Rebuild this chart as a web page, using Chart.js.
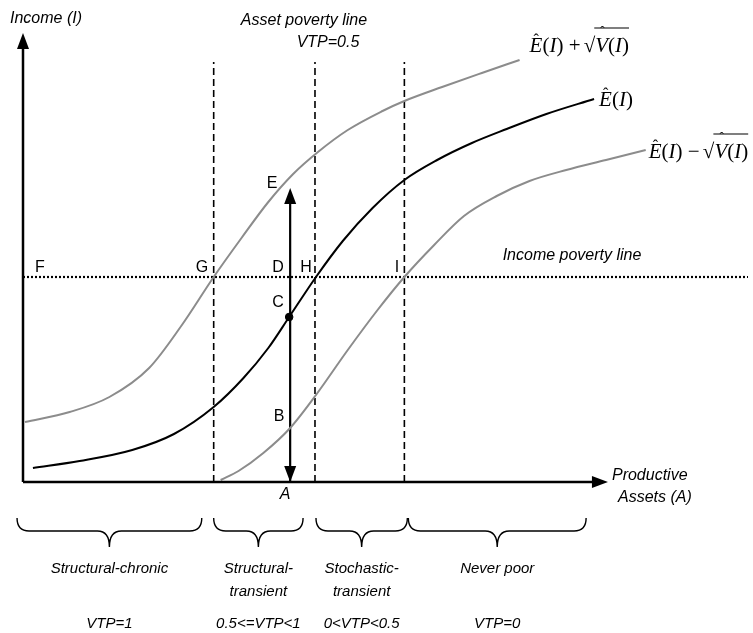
<!DOCTYPE html>
<html><head><meta charset="utf-8">
<script src="https://cdn.jsdelivr.net/npm/chart.js@4/dist/chart.umd.min.js"></script>
<style>html,body{margin:0;padding:0;background:#fff}canvas{display:block}</style>
</head><body>
<canvas id="c" width="753" height="633"></canvas>
<script>
// Conceptual diagram: x = productive assets, y = income (arbitrary units)
const meanX  = [10, 57, 110, 152, 192, 222, 247, 268, 295, 322, 352, 384, 417, 452, 487, 527, 575];
const meanY  = [14, 21, 32, 48, 75, 104, 134, 165, 205, 241, 274, 302, 322, 339, 353, 368, 383];
const upperX = [2, 47, 87, 127, 160, 192, 220, 247, 272, 297, 327, 362, 384, 422, 462, 500];
const upperY = [60, 70, 85, 114, 157, 205, 244, 280, 308, 330, 352, 371, 381, 395, 409, 422];
const lowerX = [199, 217, 242, 269, 295, 327, 357, 384, 414, 444, 477, 510, 547, 587, 627];
const lowerY = [2, 11, 29, 54, 87, 132, 172, 205, 237, 266, 286, 301, 312, 322, 332];
const assetThresholds = [192, 294, 384];   // G, asset poverty line, I
const incomePovertyLine = 205;
const householdA = 269;                    // A
const householdE = 294;                    // top of arrow (E)
const pointC = [268, 165];
const xMax = 730, yMax = 449, xAxisEnd = 589, yTop = 420;
const regions = [["Structural-chronic"], ["Structural-", "transient"], ["Stochastic-", "transient"], ["Never poor"]];
const regionBounds = [[-6, 180], [192, 282], [295, 387], [388, 567]];
const vtpLabels = ["VTP=1", "0.5<=VTP<1", "0<VTP<0.5", "VTP=0"];

const pts = (xs, ys) => xs.map((x, i) => ({x, y: ys[i]}));
const SANS = "'Liberation Sans', Arial, sans-serif";
const NARROW = "'Liberation Sans Narrow', 'Liberation Sans', Arial, sans-serif";
const SERIF = "'Liberation Serif', 'Times New Roman', serif";

const datasets = [
  {data: pts(upperX, upperY), borderColor: '#8c8c8c', borderWidth: 2, cubicInterpolationMode: 'monotone'},
  {data: pts(meanX, meanY), borderColor: '#000', borderWidth: 2, cubicInterpolationMode: 'monotone'},
  {data: pts(lowerX, lowerY), borderColor: '#8c8c8c', borderWidth: 2, cubicInterpolationMode: 'monotone'},
  ...assetThresholds.map(t => ({data: [{x: t, y: 0}, {x: t, y: yTop}], borderColor: '#000', borderWidth: 1.6, borderDash: [7, 4]})),
  {data: [{x: 0, y: incomePovertyLine}, {x: xMax, y: incomePovertyLine}], borderColor: '#000', borderWidth: 2.2, borderDash: [2, 2]},
  {data: [{x: householdA, y: 0}, {x: householdA, y: householdE - 14}], borderColor: '#000', borderWidth: 2.2},
  {data: [{x: pointC[0], y: pointC[1]}], showLine: false, pointRadius: 3.8, backgroundColor: '#000', borderColor: '#000'}
];
datasets.forEach(d => { if (d.pointRadius === undefined) d.pointRadius = 0; if (d.showLine === undefined) d.showLine = true; d.clip = false; });

const deco = {
  id: 'deco',
  afterDatasetsDraw(chart) {
    const ctx = chart.ctx, xs = chart.scales.x, ys = chart.scales.y;
    const X = v => xs.getPixelForValue(v), Y = v => ys.getPixelForValue(v);
    ctx.save();
    ctx.strokeStyle = '#000'; ctx.fillStyle = '#000'; ctx.lineWidth = 2.5;
    // axes
    ctx.beginPath(); ctx.moveTo(X(0), Y(0)); ctx.lineTo(X(0), Y(yMax) + 14); ctx.stroke();
    ctx.beginPath(); ctx.moveTo(X(0), Y(0)); ctx.lineTo(X(xAxisEnd) - 14, Y(0)); ctx.stroke();
    const tri = (x, y, dir) => {
      ctx.beginPath();
      if (dir === 'up') { ctx.moveTo(x, y); ctx.lineTo(x - 6, y + 16); ctx.lineTo(x + 6, y + 16); }
      if (dir === 'down') { ctx.moveTo(x, y); ctx.lineTo(x - 6, y - 16); ctx.lineTo(x + 6, y - 16); }
      if (dir === 'right') { ctx.moveTo(x, y); ctx.lineTo(x - 16, y - 6); ctx.lineTo(x - 16, y + 6); }
      ctx.closePath(); ctx.fill();
    };
    tri(X(0), Y(yMax), 'up');
    tri(X(xAxisEnd), Y(0), 'right');
    tri(X(householdA), Y(householdE), 'up');
    tri(X(householdA), Y(0), 'down');

    // letters
    ctx.font = '16px ' + SANS; ctx.textAlign = 'center'; ctx.textBaseline = 'middle';
    const L = (t, dx, dy) => ctx.fillText(t, X(0) + dx, Y(0) + dy);
    [['F', 17, -214], ['G', 179, -214], ['D', 255, -214], ['H', 283, -214], ['I', 374, -214],
     ['C', 255, -179], ['B', 256, -65], ['E', 249, -298]].forEach(a => L(a[0], a[1], a[2]));
    ctx.font = 'italic 16px ' + SANS; L('A', 262, 13);

    // axis titles etc
    ctx.font = 'italic 16px ' + SANS; ctx.textAlign = 'left';
    ctx.fillText('Income (I)', 10, 19);
    ctx.fillText('Productive', X(xAxisEnd) + 4, Y(0) - 6);
    ctx.fillText('Assets (A)', X(xAxisEnd) + 10, Y(0) + 16);
    ctx.textAlign = 'center';
    ctx.fillText('Asset poverty line', X(assetThresholds[1]) - 11, 21);
    ctx.fillText('VTP=0.5', X(assetThresholds[1]) + 13, 43);
    ctx.fillText('Income poverty line', 572, Y(incomePovertyLine) - 21);

    // math labels
    const F = 21;
    const drawMath = (x, y, sign) => {
      ctx.fillStyle = '#000'; ctx.textAlign = 'left'; ctx.textBaseline = 'alphabetic';
      let cx = x;
      const put = (t, f) => { if (f) ctx.font = f; ctx.fillText(t, cx, y); cx += ctx.measureText(t).width; };
      const ehatX = cx;
      put('E', 'italic ' + F + 'px ' + SERIF);
      ctx.font = '16px ' + SERIF; ctx.fillText('\u02C6', ehatX + 4, y - 7);
      put('(', F + 'px ' + SERIF); put('I', 'italic ' + F + 'px ' + SERIF); put(')', F + 'px ' + SERIF);
      if (!sign) return;
      put(' ' + sign + ' ', F + 'px ' + SERIF);
      cx -= 2;
      put('\u221A', F + 'px ' + SERIF);
      const start = cx;
      const vx = cx;
      put('V', 'italic ' + F + 'px ' + SERIF);
      ctx.font = '13px ' + SERIF; ctx.fillText('\u02C6', vx + 5, y - 17);
      put('(', F + 'px ' + SERIF); put('I', 'italic ' + F + 'px ' + SERIF); put(')', F + 'px ' + SERIF);
      ctx.lineWidth = 1.1; ctx.beginPath(); ctx.moveTo(start - 1, y - 24); ctx.lineTo(cx, y - 24); ctx.stroke();
    };
    drawMath(X(upperX[upperX.length - 1]) + 10, Y(upperY[upperY.length - 1]) - 8, '+');
    drawMath(X(meanX[meanX.length - 1]) + 5, Y(meanY[meanY.length - 1]) + 7, null);
    drawMath(X(lowerX[lowerX.length - 1]) + 3, Y(lowerY[lowerY.length - 1]) + 8, '\u2212');

    // braces and region labels
    ctx.lineWidth = 1.4; ctx.strokeStyle = '#000';
    const y0 = 518;
    regionBounds.forEach((b, i) => {
      const x1 = X(b[0]), x2 = X(b[1]), xm = (x1 + x2) / 2, h = 13, t = 16, r = 12;
      ctx.beginPath();
      ctx.moveTo(x1, y0);
      ctx.quadraticCurveTo(x1, y0 + h, x1 + r, y0 + h);
      ctx.lineTo(xm - r, y0 + h);
      ctx.quadraticCurveTo(xm, y0 + h, xm, y0 + h + t);
      ctx.quadraticCurveTo(xm, y0 + h, xm + r, y0 + h);
      ctx.lineTo(x2 - r, y0 + h);
      ctx.quadraticCurveTo(x2, y0 + h, x2, y0);
      ctx.stroke();
      ctx.font = 'italic 15px ' + NARROW; ctx.textAlign = 'center'; ctx.textBaseline = 'middle';
      regions[i].forEach((line, k) => ctx.fillText(line, xm, 569 + k * 23));
      ctx.fillText(vtpLabels[i], xm, 624);
    });
    ctx.restore();
  }
};

new Chart(document.getElementById('c'), {
  type: 'scatter',
  data: {datasets},
  options: {
    responsive: false, animation: false, devicePixelRatio: 1,
    layout: {padding: {left: 23, top: 33, right: 0, bottom: 151}},
    plugins: {legend: {display: false}, tooltip: {enabled: false}},
    scales: {
      x: {type: 'linear', min: 0, max: xMax, display: false},
      y: {type: 'linear', min: 0, max: yMax, display: false}
    }
  },
  plugins: [deco]
});
</script>
</body></html>
